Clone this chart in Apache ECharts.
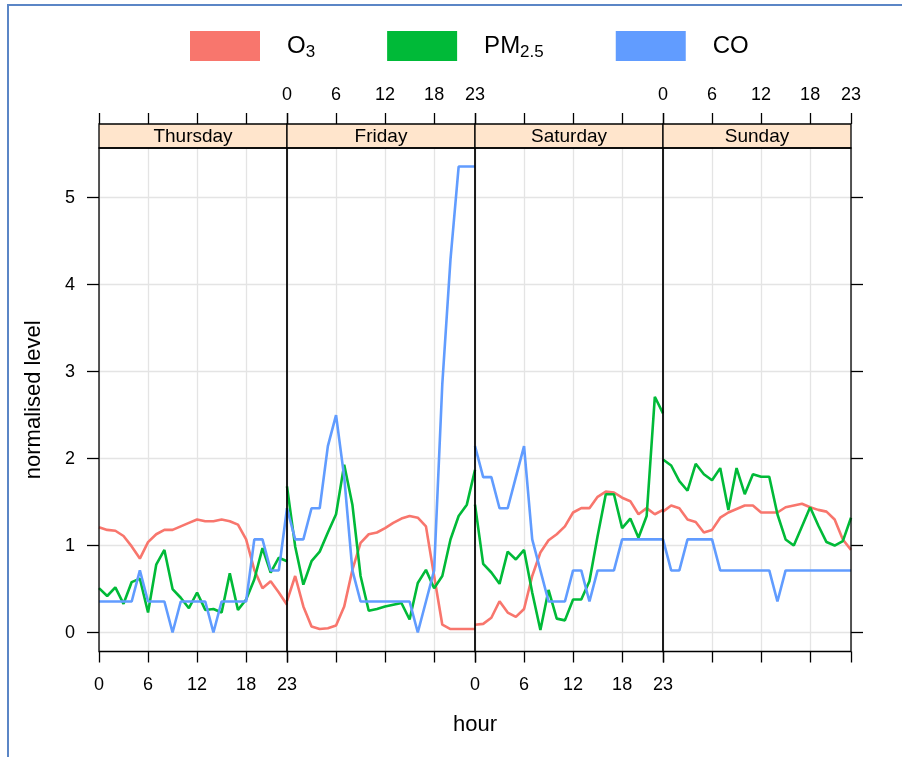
<!DOCTYPE html>
<html>
<head>
<meta charset="utf-8">
<script src="https://cdn.jsdelivr.net/npm/echarts@6/dist/echarts.min.js"></script>
<style>
  html, body { margin: 0; padding: 0; background: #fff; }
  #chart { width: 902px; height: 757px; }
</style>
</head>
<body>
<div id="chart"></div>
<script>
  var days = ['Thursday', 'Friday', 'Saturday', 'Sunday']
  var hours = [0, 1, 2, 3, 4, 5, 6, 7, 8, 9, 10, 11, 12, 13, 14, 15, 16, 17, 18, 19, 20, 21, 22, 23]
  var xTicks = [0, 6, 12, 18, 23]
  var yTicks = [0, 1, 2, 3, 4, 5]

  // O3
  var o3Thu = [1.21, 1.18, 1.17, 1.11, 0.99, 0.85, 1.04, 1.13, 1.18, 1.18, 1.22, 1.26, 1.30, 1.28, 1.28, 1.30, 1.28, 1.24, 1.07, 0.72, 0.51, 0.59, 0.46, 0.32]
  var o3Fri = [0.36, 0.65, 0.30, 0.07, 0.04, 0.05, 0.08, 0.30, 0.72, 1.03, 1.13, 1.15, 1.20, 1.26, 1.31, 1.34, 1.32, 1.22, 0.65, 0.09, 0.04, 0.04, 0.04, 0.04]
  var o3Sat = [0.09, 0.10, 0.17, 0.36, 0.23, 0.18, 0.27, 0.65, 0.92, 1.06, 1.13, 1.22, 1.38, 1.43, 1.43, 1.56, 1.62, 1.61, 1.55, 1.51, 1.36, 1.43, 1.36, 1.41]
  var o3Sun = [1.39, 1.46, 1.43, 1.30, 1.27, 1.15, 1.18, 1.32, 1.38, 1.42, 1.46, 1.46, 1.38, 1.38, 1.38, 1.44, 1.46, 1.48, 1.44, 1.41, 1.39, 1.30, 1.07, 0.95]
  // PM2.5
  var pmThu = [0.51, 0.42, 0.52, 0.33, 0.58, 0.62, 0.23, 0.78, 0.95, 0.50, 0.40, 0.28, 0.46, 0.26, 0.27, 0.23, 0.68, 0.26, 0.38, 0.61, 0.97, 0.69, 0.86, 0.82]
  var pmFri = [1.68, 0.99, 0.55, 0.82, 0.93, 1.15, 1.36, 1.93, 1.47, 0.65, 0.25, 0.27, 0.30, 0.32, 0.34, 0.15, 0.57, 0.72, 0.51, 0.65, 1.07, 1.34, 1.47, 1.87]
  var pmSat = [1.47, 0.79, 0.69, 0.56, 0.93, 0.84, 0.95, 0.46, 0.03, 0.49, 0.16, 0.14, 0.38, 0.38, 0.59, 1.11, 1.59, 1.59, 1.20, 1.31, 1.09, 1.34, 2.71, 2.52]
  var pmSun = [1.99, 1.92, 1.74, 1.63, 1.94, 1.82, 1.75, 1.89, 1.41, 1.89, 1.59, 1.82, 1.79, 1.79, 1.36, 1.07, 1.00, 1.22, 1.44, 1.23, 1.04, 1.00, 1.05, 1.32]
  // CO
  var coThu = [0.357, 0.357, 0.357, 0.357, 0.357, 0.714, 0.357, 0.357, 0.357, 0, 0.357, 0.357, 0.357, 0.357, 0, 0.357, 0.357, 0.357, 0.357, 1.071, 1.071, 0.714, 0.714, 1.429]
  var coFri = [1.429, 1.071, 1.071, 1.429, 1.429, 2.143, 2.5, 1.786, 0.714, 0.357, 0.357, 0.357, 0.357, 0.357, 0.357, 0.357, 0, 0.357, 0.714, 2.857, 4.286, 5.357, 5.357, 5.357]
  var coSat = [2.143, 1.786, 1.786, 1.429, 1.429, 1.786, 2.143, 1.071, 0.714, 0.357, 0.357, 0.357, 0.714, 0.714, 0.357, 0.714, 0.714, 0.714, 1.071, 1.071, 1.071, 1.071, 1.071, 1.071]
  var coSun = [1.071, 0.714, 0.714, 1.071, 1.071, 1.071, 1.071, 0.714, 0.714, 0.714, 0.714, 0.714, 0.714, 0.714, 0.357, 0.714, 0.714, 0.714, 0.714, 0.714, 0.714, 0.714, 0.714, 0.714]

  var o3 = [o3Thu, o3Fri, o3Sat, o3Sun]
  var pm = [pmThu, pmFri, pmSat, pmSun]
  var co = [coThu, coFri, coSat, coSun]

  var colors = { O3: '#F8766D', 'PM2.5': '#00BA38', CO: '#619CFF' }
  var font = 'Liberation Sans, Arial, sans-serif'

  // panel layout (px)
  var panelLeft = 99
  var panelW = 188
  var panelTop = 148
  var panelH = 503.5
  var stripH = 24

  var grids = [], xAxes = [], yAxes = [], series = [], graphics = []

  days.forEach(function(day, i) {
    var left = panelLeft + panelW * i
    grids.push({ left: left, top: panelTop, width: panelW, height: panelH })

    // bottom axis
    xAxes.push({
      type: 'value', gridIndex: i, min: 0, max: 23, interval: 6, position: 'bottom',
      axisLine: { show: false, onZero: false },
      axisTick: { show: true, length: 11, customValues: xTicks, lineStyle: { color: '#000', width: 1.3 } },
      axisLabel: { show: i % 2 === 0, customValues: xTicks, margin: 25, fontSize: 18, color: '#000', fontFamily: font },
      splitLine: { show: true, lineStyle: { color: '#e4e4e4', width: 1.3 } }
    })
    // top axis, above the strip
    xAxes.push({
      type: 'value', gridIndex: i, min: 0, max: 23, interval: 6, position: 'top', offset: stripH,
      axisLine: { show: false, onZero: false },
      axisTick: { show: true, length: 11, customValues: xTicks, lineStyle: { color: '#000', width: 1.3 } },
      axisLabel: { show: i % 2 === 1, customValues: xTicks, margin: 20, fontSize: 18, color: '#000', fontFamily: font },
      splitLine: { show: false }
    })

    yAxes.push({
      type: 'value', gridIndex: i, min: -0.218, max: 5.57, position: i === 3 ? 'right' : 'left',
      name: i === 0 ? 'normalised level' : '',
      nameLocation: 'middle', nameGap: 54,
      nameTextStyle: { fontSize: 22, color: '#000', fontFamily: font },
      axisLine: { show: false, onZero: false },
      axisTick: { show: i === 0 || i === 3, length: 12, customValues: yTicks, lineStyle: { color: '#000', width: 1.3 } },
      axisLabel: { show: i === 0, customValues: yTicks, margin: 24, fontSize: 18, color: '#000', fontFamily: font },
      splitLine: { show: true, lineStyle: { color: '#e4e4e4', width: 1.3 } }
    })

    var lines = [['O3', o3[i]], ['PM2.5', pm[i]], ['CO', co[i]]]
    lines.forEach(function(l) {
      series.push({
        type: 'line', name: l[0], xAxisIndex: i * 2, yAxisIndex: i,
        data: hours.map(function(h, k) { return [h, l[1][k]] }),
        symbol: 'none', clip: true,
        lineStyle: { width: 2.6, color: colors[l[0]] },
        itemStyle: { color: colors[l[0]] }
      })
    })

    // strip
    graphics.push({
      type: 'rect', z: 100,
      shape: { x: left, y: panelTop - stripH, width: panelW, height: stripH },
      style: { fill: '#FFE5CC', stroke: '#000', lineWidth: 1.3 }
    })
    graphics.push({
      type: 'text', z: 101,
      style: { text: day, x: left + panelW / 2, y: panelTop - stripH / 2 + 1, align: 'center', verticalAlign: 'middle',
        fontSize: 19, fontFamily: font, fill: '#000' }
    })
    // panel border
    graphics.push({
      type: 'rect', z: 100,
      shape: { x: left, y: panelTop, width: panelW, height: panelH },
      style: { fill: 'none', stroke: '#000', lineWidth: 1.3 }
    })
  })

  graphics.push({
    type: 'text', z: 101,
    style: { text: 'hour', x: panelLeft + panelW * 2, y: 725, align: 'center', verticalAlign: 'middle',
      fontSize: 22, fontFamily: font, fill: '#000' }
  })
  // outer frame
  graphics.push({ type: 'line', z: 100, shape: { x1: 8, y1: 5, x2: 8, y2: 757 }, style: { stroke: '#5B86C6', lineWidth: 2 } })
  graphics.push({ type: 'line', z: 100, shape: { x1: 7, y1: 5, x2: 902, y2: 5 }, style: { stroke: '#5B86C6', lineWidth: 2 } })

  var chart = echarts.init(document.getElementById('chart'))
  chart.setOption({
    animation: false,
    backgroundColor: '#fff',
    legend: {
      data: ['O3', 'PM2.5', 'CO'],
      left: 190, top: 31, padding: 0,
      icon: 'rect', itemWidth: 70, itemHeight: 30, itemGap: 72,
      selectedMode: false,
      formatter: function(name) {
        if (name === 'O3') return '{m|O}{s|3}'
        if (name === 'PM2.5') return '{m|PM}{s|2.5}'
        return '{m|CO}'
      },
      textStyle: {
        fontFamily: font,
        rich: {
          m: { fontSize: 24, color: '#000', fontFamily: font, lineHeight: 30, verticalAlign: 'middle', padding: [0, 0, 0, 22] },
          s: { fontSize: 17, color: '#000', fontFamily: font, lineHeight: 30, verticalAlign: 'bottom' }
        }
      }
    },
    grid: grids,
    xAxis: xAxes,
    yAxis: yAxes,
    series: series,
    graphic: graphics
  })
</script>
</body>
</html>
